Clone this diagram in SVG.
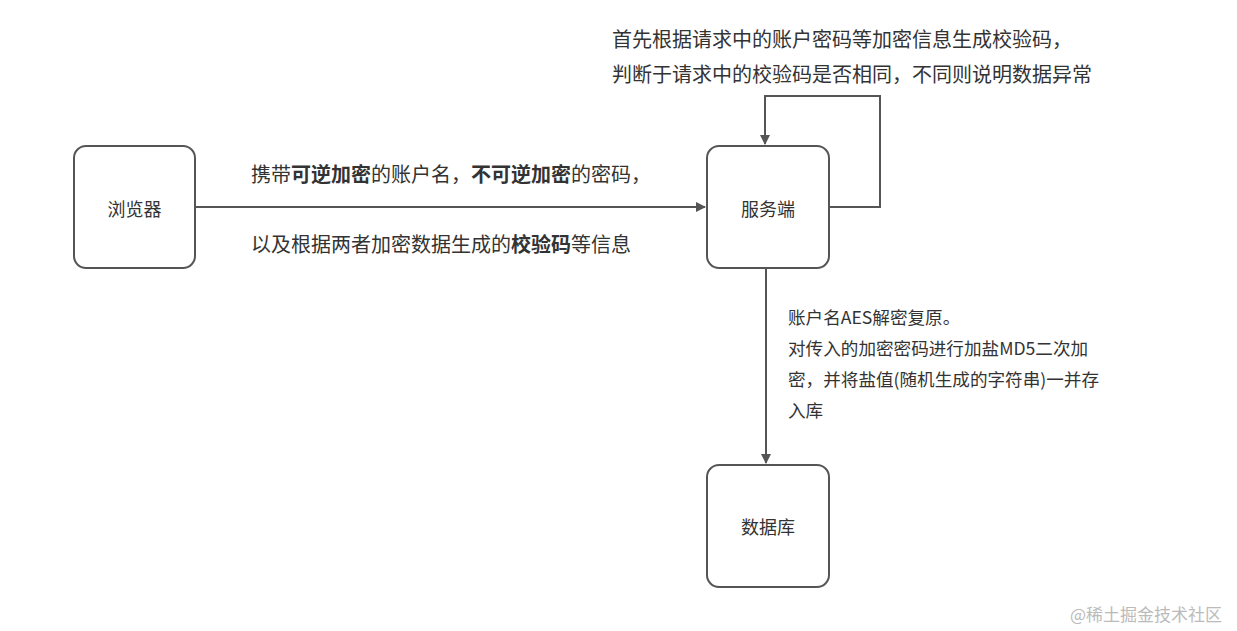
<svg xmlns="http://www.w3.org/2000/svg" width="1237" height="631" viewBox="0 0 1237 631">
<style>
.box{fill:#fff;stroke:#555;stroke-width:2}
.line{fill:none;stroke:#555;stroke-width:2}
text{font-family:"Microsoft YaHei","Noto Sans CJK SC","Noto Sans",sans-serif;fill:#333;dominant-baseline:central}
.nl{font-size:18px;text-anchor:middle}
.el{font-size:20px}
.vl{font-size:17.6px}
.b{font-weight:bold}
.wm{font-size:17px;fill:#bbb}
</style>
<defs>
<marker id="arr" viewBox="0 0 10 10" refX="9" refY="5" markerWidth="10" markerHeight="10" markerUnits="userSpaceOnUse" orient="auto">
<path d="M0,0 L10,5 L0,10 Z" fill="#555"/>
</marker>
</defs>
<rect width="1237" height="631" fill="#fff"/>
<g id="connectors">
<line class="line" x1="196" y1="207" x2="705" y2="207" marker-end="url(#arr)"/>
<polyline class="line" points="830,207 880,207 880,96 765,96 765,144" marker-end="url(#arr)"/>
<line class="line" x1="766" y1="269" x2="766" y2="463" marker-end="url(#arr)"/>
</g>
<g id="browser">
<rect class="box" x="74" y="146" width="121" height="122" rx="12"/>
<text class="nl" x="134.5" y="208">浏览器</text>
</g>
<g id="server">
<rect class="box" x="707" y="146" width="122" height="122" rx="12"/>
<text class="nl" x="768" y="208">服务端</text>
</g>
<g id="database">
<rect class="box" x="707" y="465" width="122" height="122" rx="12"/>
<text class="nl" x="768" y="526">数据库</text>
</g>
<g id="labels">
<text class="el" x="612" y="38">首先根据请求中的账户密码等加密信息生成校验码，</text>
<text class="el" x="612" y="73">判断于请求中的校验码是否相同，不同则说明数据异常</text>
<text class="el" x="251" y="173">携带<tspan class="b">可逆加密</tspan>的账户名，<tspan class="b">不可逆加密</tspan>的密码，</text>
<text class="el" x="251" y="243">以及根据两者加密数据生成的<tspan class="b">校验码</tspan>等信息</text>
<text class="vl" x="788" y="316">账户名AES解密复原。</text>
<text class="vl" x="788" y="347">对传入的加密密码进行加盐MD5二次加</text>
<text class="vl" x="788" y="378">密，并将盐值(随机生成的字符串)一并存</text>
<text class="vl" x="788" y="409">入库</text>
<text class="wm" x="1070" y="613">@稀土掘金技术社区</text>
</g>
</svg>
